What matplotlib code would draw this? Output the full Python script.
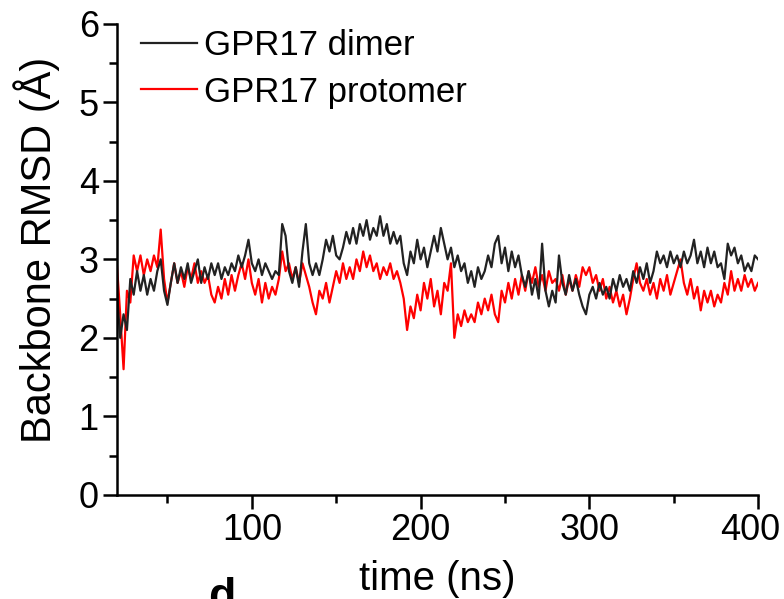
import matplotlib
matplotlib.use("Agg")
import matplotlib.pyplot as plt
import matplotlib.transforms as mtransforms
import numpy as np
from matplotlib.ticker import MultipleLocator

plt.rcParams['font.family'] = ['Liberation Sans', 'DejaVu Sans']

# time axis, one reading every 2 ns
time_ns = np.arange(20, 401, 2)

# backbone RMSD (Angstrom)
dimer = [
    2.6, 2.0, 2.3, 2.1, 2.75, 2.55, 2.85, 2.6, 2.8, 2.55,
    2.75, 2.6, 2.85, 3.0, 2.6, 2.42, 2.7, 2.95, 2.7, 2.9,
    2.75, 2.95, 2.7, 2.85, 3.0, 2.7, 2.9, 2.75, 2.95, 2.8,
    2.95, 2.75, 2.9, 2.8, 2.95, 2.85, 3.05, 2.9, 3.05, 3.25,
    2.95, 2.85, 3.0, 2.8, 2.95, 2.85, 2.75, 2.85, 2.8, 3.45,
    3.3, 2.85, 2.7, 2.9, 2.65, 3.1, 3.45, 2.95, 2.8, 2.95,
    2.8, 3.0, 3.25, 3.1, 3.3, 3.05, 3.0, 3.15, 3.35, 3.2,
    3.4, 3.2, 3.45, 3.3, 3.5, 3.25, 3.4, 3.3, 3.55, 3.3,
    3.45, 3.2, 3.35, 3.2, 3.3, 2.95, 2.8, 3.1, 2.95, 3.25,
    3.0, 3.15, 2.9, 3.1, 3.3, 3.1, 3.4, 3.2, 3.0, 3.15,
    2.9, 3.05, 2.85, 2.95, 2.7, 2.85, 2.65, 2.9, 2.75, 2.85,
    3.05, 2.9, 3.2, 3.3, 2.95, 3.15, 2.85, 3.1, 2.9, 3.05,
    2.8, 2.65, 2.85, 2.55, 2.75, 2.5, 3.2, 2.6, 2.4, 2.6,
    2.45, 3.05, 2.7, 2.55, 2.8, 2.6, 2.75, 2.55, 2.4, 2.3,
    2.55, 2.65, 2.5, 2.7, 2.55, 2.65, 2.5, 2.75, 2.6, 2.8,
    2.65, 2.75, 2.6, 2.85, 2.7, 2.9, 2.75, 2.95, 2.7, 2.85,
    3.1, 2.95, 3.05, 2.9, 3.1, 2.95, 3.05, 2.9, 3.1, 2.95,
    3.05, 3.25, 2.95, 3.1, 2.9, 3.15, 2.95, 3.1, 2.9, 2.95,
    2.75, 3.2, 3.05, 3.15, 2.95, 3.05, 2.85, 2.95, 2.85, 3.05,
    3.0,
]

protomer = [
    2.95, 2.3, 1.6, 2.6, 2.45, 3.05, 2.85, 3.05, 2.8, 3.0,
    2.85, 3.05, 2.9, 3.38, 2.75, 2.45, 2.7, 2.95, 2.7, 2.85,
    2.65, 2.9, 2.75, 2.95, 2.7, 2.85, 2.7, 2.8, 2.55, 2.45,
    2.65, 2.5, 2.75, 2.55, 2.8, 2.6, 2.8, 2.95, 2.75, 3.0,
    2.7, 2.55, 2.75, 2.45, 2.7, 2.5, 2.65, 2.55, 2.75, 3.1,
    2.85, 2.95, 2.75, 2.9, 2.7, 2.95, 2.8, 2.65, 2.45, 2.3,
    2.6, 2.5, 2.7, 2.45, 2.65, 2.85, 2.7, 2.95, 2.75, 2.9,
    2.75, 3.0, 2.85, 3.1, 2.9, 3.05, 2.85, 2.95, 2.75, 2.9,
    2.8, 2.95, 2.75, 2.85, 2.7, 2.5, 2.1, 2.4, 2.25, 2.55,
    2.35, 2.7, 2.5, 2.75, 2.4, 2.6, 2.3, 2.7, 2.6, 2.95,
    2.0, 2.3, 2.15, 2.35, 2.2, 2.3, 2.2, 2.45, 2.3, 2.5,
    2.35, 2.55, 2.3, 2.2, 2.6, 2.45, 2.7, 2.5, 2.75, 2.55,
    2.8, 2.6, 2.85, 2.7, 2.9, 2.65, 2.8, 2.6, 2.85, 2.7,
    2.75, 2.6, 2.8, 2.55, 2.75, 2.6, 2.8, 2.65, 2.9, 2.8,
    2.9, 2.7, 2.8, 2.6, 2.75, 2.5, 2.65, 2.45, 2.6, 2.4,
    2.55, 2.3, 2.5, 2.75, 2.95, 2.7, 2.6, 2.75, 2.55, 2.7,
    2.5, 2.75, 2.6, 2.8, 2.55, 2.7, 2.85, 3.0, 2.7, 2.55,
    2.75, 2.5, 2.65, 2.35, 2.6, 2.45, 2.6, 2.4, 2.55, 2.45,
    2.7, 2.55, 2.85, 2.6, 2.75, 2.6, 2.8, 2.65, 2.75, 2.6,
    2.7,
]

labels = ['GPR17 dimer', 'GPR17 protomer']
xticks = [100, 200, 300, 400]

fig = plt.figure(figsize=(7.84, 5.99), dpi=100)
ax = fig.add_axes([0.149, 0.174, 0.818, 0.786])

l2, = ax.plot(time_ns, protomer, color='#ff0000', lw=1.6)
l1, = ax.plot(time_ns, dimer, color='#222222', lw=1.6)

ax.set_xlim(20, 400)
ax.set_ylim(0, 6)
ax.set_xticks(xticks)
ax.xaxis.set_minor_locator(MultipleLocator(50))
ax.yaxis.set_major_locator(MultipleLocator(1))
ax.yaxis.set_minor_locator(MultipleLocator(0.5))

for s in ['top', 'right']:
    ax.spines[s].set_visible(False)
for s in ['left', 'bottom']:
    ax.spines[s].set_linewidth(1.8)

ax.tick_params(which='major', length=10, width=1.8, labelsize=26, pad=3)
ax.tick_params(which='minor', length=6, width=1.8)

# keep the last x label inside the figure edge
last = ax.xaxis.get_major_ticks()[-1].label1
last.set_transform(last.get_transform() +
                   mtransforms.ScaledTranslation(-6 / 72, 0, fig.dpi_scale_trans))

ax.set_xlabel('time (ns)', fontsize=29, labelpad=9)
ax.set_ylabel('Backbone RMSD (Å)', fontsize=30)
ax.yaxis.set_label_coords(-0.088, 0.52)

ax.legend([l1, l2], labels, loc='upper left', frameon=False, fontsize=25,
          handlelength=1.6, handletextpad=0.2, labelspacing=0.38,
          bbox_to_anchor=(0.0, 1.04), borderaxespad=0.3)

# cut-off label of the next panel
fig.text(0.265, 0.036, 'd', fontsize=32, fontweight='bold', va='top', ha='left')

fig.savefig('out.png', dpi=100)
